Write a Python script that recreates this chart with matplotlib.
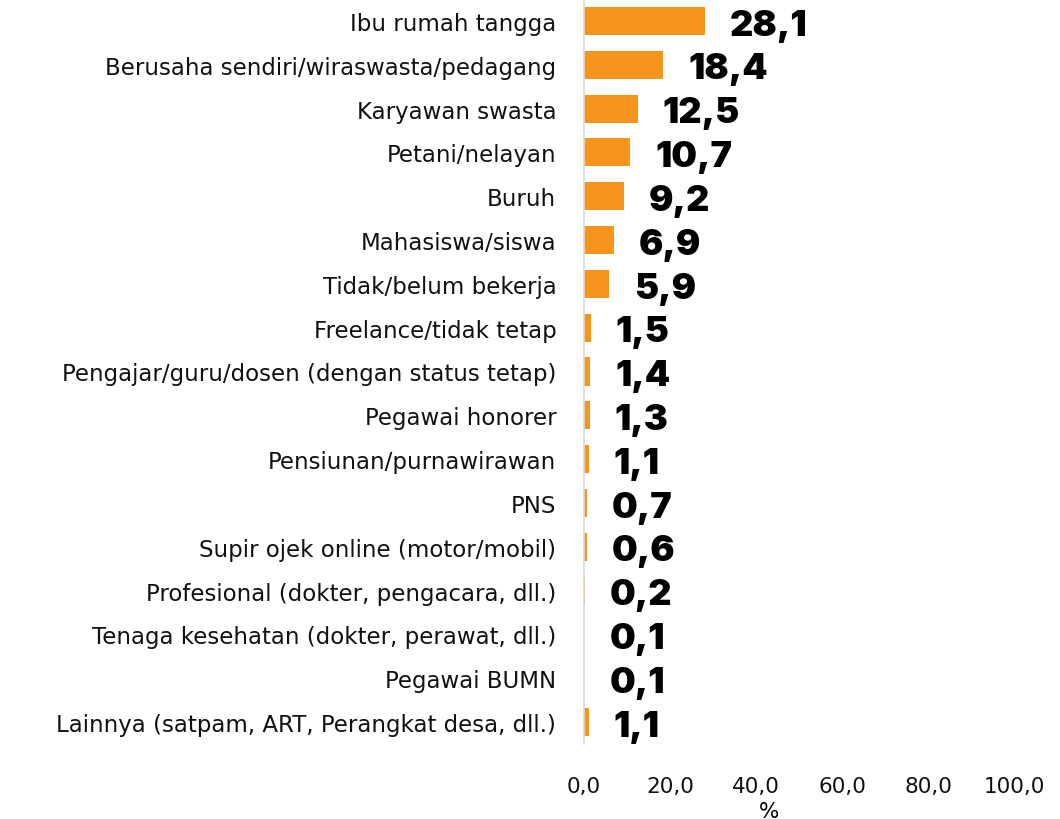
import matplotlib
matplotlib.use("Agg")
import matplotlib.pyplot as plt

categories = [
    "Ibu rumah tangga",
    "Berusaha sendiri/wiraswasta/pedagang",
    "Karyawan swasta",
    "Petani/nelayan",
    "Buruh",
    "Mahasiswa/siswa",
    "Tidak/belum bekerja",
    "Freelance/tidak tetap",
    "Pengajar/guru/dosen (dengan status tetap)",
    "Pegawai honorer",
    "Pensiunan/purnawirawan",
    "PNS",
    "Supir ojek online (motor/mobil)",
    "Profesional (dokter, pengacara, dll.)",
    "Tenaga kesehatan (dokter, perawat, dll.)",
    "Pegawai BUMN",
    "Lainnya (satpam, ART, Perangkat desa, dll.)",
]
values = [28.1, 18.4, 12.5, 10.7, 9.2, 6.9, 5.9, 1.5, 1.4, 1.3, 1.1, 0.7, 0.6, 0.2, 0.1, 0.1, 1.1]
xticks = [0, 20, 40, 60, 80, 100]

plt.rcParams['font.family'] = ['DejaVu Sans']

fig = plt.figure(figsize=(10.6, 8.2), dpi=100)
ax = fig.add_axes([0.551, 0.0915, 0.406, 0.9085])

y = list(range(len(categories)))
ax.barh(y, values, height=0.64, color="#F7941D")

def fmt(v):
    return f"{v:.1f}".replace(".", ",")

for yi, v in zip(y, values):
    ax.annotate(fmt(v), (v, yi), xytext=(18, -3), textcoords="offset points",
                ha="left", va="center", fontsize=26, fontweight="black",
                family=["Inter", "DejaVu Sans"], color="black")

ax.set_xlim(0, 100)
ax.set_ylim(16.5, -0.5)
ax.set_yticks(y)
ax.set_yticklabels(categories, fontsize=16.5, color="#111111")
ax.set_xticks(xticks)
ax.set_xticklabels([fmt(t) for t in xticks], fontsize=15.5, color="#111111")
ax.tick_params(axis="y", length=0, pad=20)
ax.tick_params(axis="x", length=0, pad=23)

for s in ["top", "right", "bottom"]:
    ax.spines[s].set_visible(False)
ax.spines["left"].set_color("#d9d9d9")
ax.spines["left"].set_linewidth(1.2)

ax.set_xlabel("%", fontsize=15.5)
ax.xaxis.set_label_coords(0.43, -0.076)

fig.savefig("out.png", dpi=100)
